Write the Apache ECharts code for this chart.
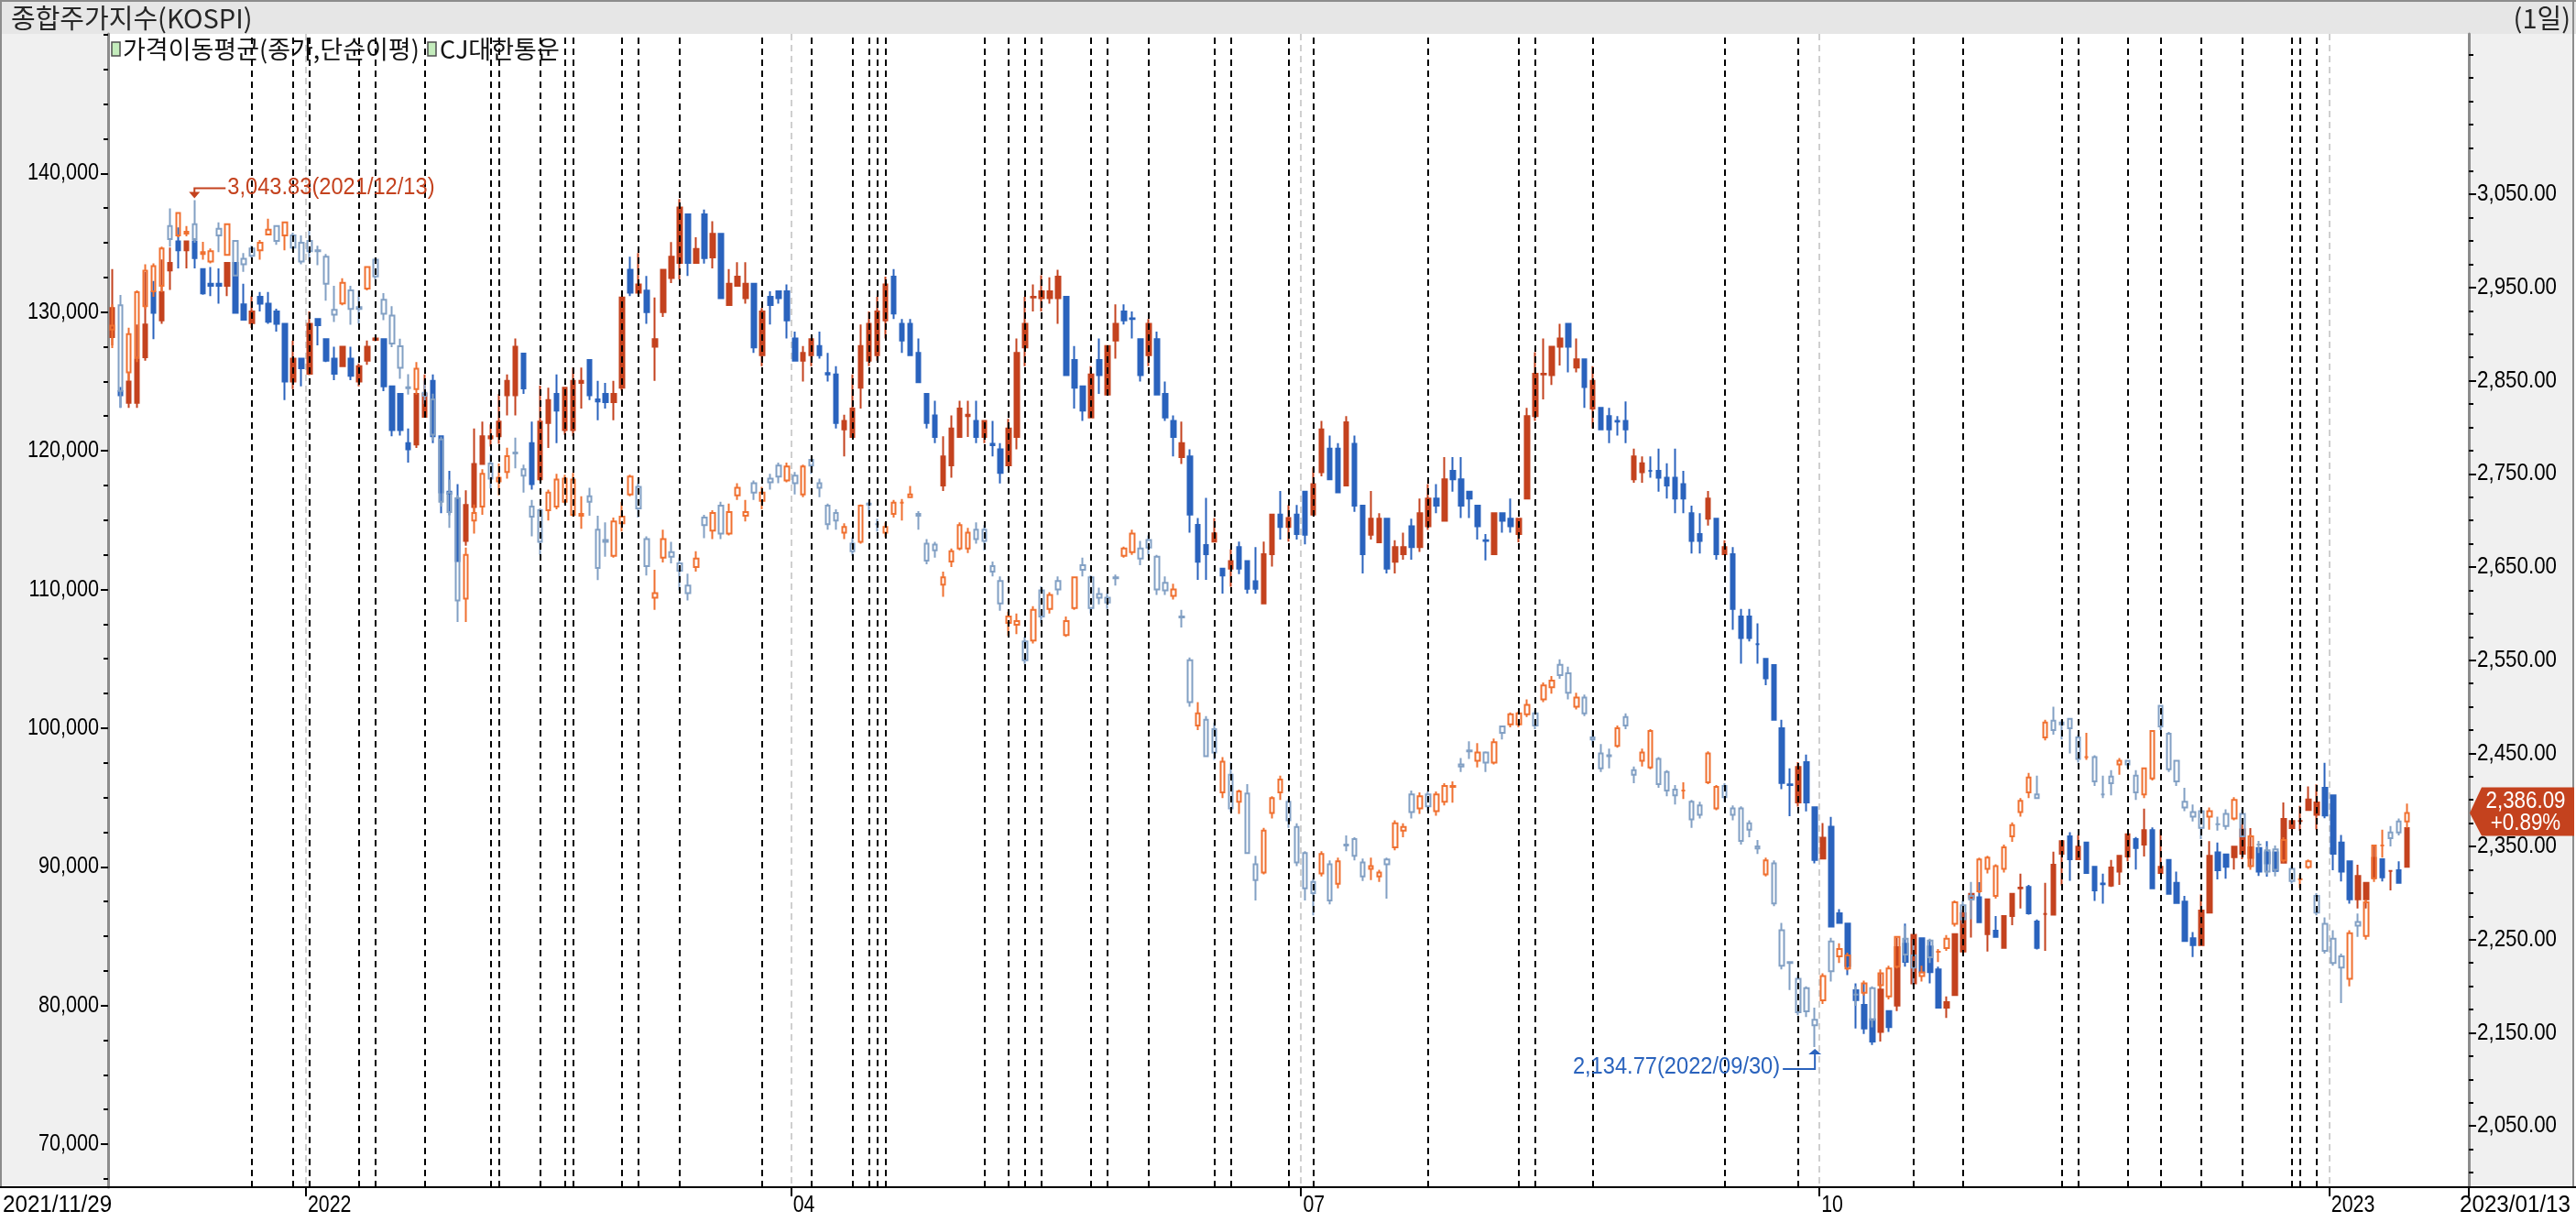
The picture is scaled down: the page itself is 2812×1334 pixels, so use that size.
<!DOCTYPE html>
<html><head><meta charset="utf-8">
<script src="https://cdn.jsdelivr.net/npm/echarts@6/dist/echarts.min.js"></script>
<style>
html,body{margin:0;padding:0;background:#fff;}
#wrap{position:relative;width:2812px;height:1334px;background:#fff;overflow:hidden;}
.bx{position:absolute;}
</style>
</head><body>
<div id="wrap">
  <div class="bx" style="left:0;top:0;width:2812px;height:37px;background:#e6e6e6;"></div>
  <div class="bx" style="left:0;top:0;width:2812px;height:2px;background:#8c8c8c;"></div>
  <div class="bx" style="left:0;top:37px;width:118px;height:1259px;background:#f0f0f0;"></div>
  <div class="bx" style="left:2695px;top:37px;width:113px;height:1259px;background:#f0f0f0;"></div>
  <div class="bx" style="left:0;top:0;width:2px;height:1296px;background:#8c8c8c;"></div>
  <div class="bx" style="left:2808px;top:0;width:2px;height:1296px;background:#8c8c8c;"></div>
  <div id="c" class="bx" style="left:0;top:0;width:2812px;height:1334px;"></div>
</div>
<script>
// ---------------- data ----------------
const tradingDays = [
  ['2021/11', [29,30]],
  ['2021/12', [1,2,3,6,7,8,9,10,13,14,15,16,17,20,21,22,23,24,27,28,29,30]],
  ['2022/01', [3,4,5,6,7,10,11,12,13,14,17,18,19,20,21,24,25,26,27,28]],
  ['2022/02', [3,4,7,8,9,10,11,14,15,16,17,18,21,22,23,24,25,28]],
  ['2022/03', [2,3,4,7,8,10,11,14,15,16,17,18,21,22,23,24,25,28,29,30,31]],
  ['2022/04', [1,4,5,6,7,8,11,12,13,14,15,18,19,20,21,22,25,26,27,28,29]],
  ['2022/05', [2,3,4,6,9,10,11,12,13,16,17,18,19,20,23,24,25,26,27,30,31]],
  ['2022/06', [2,3,7,8,9,10,13,14,15,16,17,20,21,22,23,24,27,28,29,30]],
  ['2022/07', [1,4,5,6,7,8,11,12,13,14,15,18,19,20,21,22,25,26,27,28,29]],
  ['2022/08', [1,2,3,4,5,8,9,10,11,12,16,17,18,19,22,23,24,25,26,29,30,31]],
  ['2022/09', [1,2,5,6,7,8,13,14,15,16,19,20,21,22,23,26,27,28,29,30]],
  ['2022/10', [4,5,6,7,11,12,13,14,17,18,19,20,21,24,25,26,27,28,31]],
  ['2022/11', [1,2,3,4,7,8,9,10,11,14,15,16,17,18,21,22,23,24,25,28,29,30]],
  ['2022/12', [1,2,5,6,7,8,9,12,13,14,15,16,19,20,21,22,23,26,27,28,29]],
  ['2023/01', [2,3,4,5,6,9,10,11,12,13]]
];
const emptySlots = 7;

// KOSPI (hollow candles, right axis): [open, close, low, high]
const kospi = [
[2905,2909,2885,2932],[2931,2839,2821,2942],[2859,2900,2850,2907],[2875,2945,2870,2947],[2930,2968,2927,2975],[2946,2973,2940,2976],[2952,2992,2945,2994],[3016,3002,2994,3035],[3006,3030,3004,3030],[3008,3010,3005,3016],
[3018,3002,2998,3043.83],[2986,2988,2980,2999],[2978,2989,2976,2992],[3013,3006,2988,3020],[2985,3018,2985,3019],[3000,2963,2962,3000],[2981,2975,2967,2987],[2992,2984,2982,2995],[2990,2998,2980,3001],[3007,3012,3007,3024],
[3016,3000,2996,3016],[3006,3020,2990,3021],[3006,2993,2991,3009],[2998,2978,2975,3006],[3000,2989,2978,3011],[2990,2989,2974,2995],[2983,2954,2936,2986],[2926,2921,2913,2952],[2933,2955,2931,2960],[2947,2927,2910,2952],
[2929,2927,2911,2947],[2949,2972,2947,2972],[2980,2962,2959,2982],[2937,2922,2915,2944],[2920,2890,2886,2930],[2887,2864,2852,2895],[2843,2842,2835,2857],[2841,2863,2835,2870],[2837,2834,2825,2850],[2830,2792,2786,2836],
[2787,2720,2715,2790],[2730,2709,2692,2744],[2724,2614,2591,2727],[2616,2663,2591,2671],[2700,2708,2686,2717],[2715,2750,2706,2755],[2761,2745,2734,2771],[2742,2746,2727,2761],[2752,2769,2745,2778],[2773,2772,2756,2789],
[2755,2748,2730,2760],[2715,2704,2683,2722],[2711,2677,2663,2713],[2711,2730,2700,2733],[2715,2744,2712,2750],[2720,2745,2718,2749],[2706,2744,2704,2751],[2705,2707,2691,2726],[2726,2720,2705,2735],[2690,2649,2636,2705],
[2679,2677,2661,2698],[2662,2699,2660,2703],[2697,2704,2688,2720],[2728,2747,2726,2749],[2736,2713,2703,2740],[2680,2651,2641,2683],[2617,2622,2604,2647],[2660,2680,2655,2690],[2666,2661,2654,2677],[2654,2646,2625,2660],
[2630,2622,2614,2643],[2650,2659,2645,2667],[2703,2695,2681,2706],[2689,2708,2680,2711],[2716,2686,2680,2720],[2686,2709,2684,2718],[2727,2735,2722,2740],[2705,2709,2699,2722],[2740,2730,2722,2743],[2721,2730,2712,2736],
[2745,2741,2733,2750],[2759,2747,2740,2762],[2743,2758,2741,2762],[2748,2740,2728,2752],[2728,2758,2725,2760],[2765,2759,2750,2766],[2740,2735,2725,2745],[2716,2696,2690,2718],[2708,2700,2690,2712],[2687,2693,2680,2697],
[2675,2667,2662,2682],[2677,2716,2675,2717],[2718,2717,2704,2720],[2696,2696,2688,2702],[2687,2693,2682,2698],[2707,2719,2703,2722],[2719,2719,2700,2723],[2725,2728,2725,2737],[2707,2705,2690,2710],[2675,2657,2653,2680],
[2674,2668,2660,2677],[2631,2639,2618,2645],[2656,2667,2650,2670],[2670,2695,2668,2698],[2670,2687,2665,2692],[2690,2680,2675,2698],[2690,2678,2668,2695],[2651,2645,2640,2656],[2635,2611,2603,2640],[2590,2597,2576,2602],
[2588,2592,2578,2600],[2570,2550,2546,2575],[2571,2604,2568,2608],[2625,2597,2590,2629],[2605,2620,2600,2623],[2635,2626,2620,2640],[2577,2592,2575,2597],[2606,2639,2604,2640],[2652,2647,2640,2660],[2639,2606,2600,2641],
[2621,2617,2610,2628],[2617,2612,2605,2622],[2639,2638,2630,2642],[2662,2670,2660,2672],[2666,2686,2663,2690],[2670,2659,2652,2678],[2679,2671,2663,2684],[2661,2626,2620,2663],[2633,2625,2620,2640],[2619,2626,2615,2632],
[2597,2596,2585,2604],[2550,2505,2500,2553],[2480,2493,2475,2505],[2486,2447,2446,2490],[2476,2451,2443,2483],[2408,2441,2402,2446],[2427,2391,2387,2440],[2398,2409,2385,2411],[2407,2343,2342,2417],[2331,2314,2292,2340],
[2322,2367,2320,2370],[2386,2402,2380,2404],[2408,2422,2400,2426],[2398,2378,2370,2401],[2371,2333,2329,2375],[2343,2305,2292,2345],[2312,2300,2276,2316],[2321,2342,2318,2345],[2331,2292,2288,2335],[2310,2334,2305,2338],
[2352,2351,2345,2362],[2358,2340,2335,2360],[2333,2318,2313,2337],[2326,2329,2314,2338],[2318,2322,2312,2325],[2336,2331,2294,2338],[2349,2375,2346,2378],[2367,2371,2360,2375],[2406,2387,2380,2410],[2391,2404,2385,2408],
[2406,2393,2388,2409],[2388,2406,2383,2409],[2398,2415,2394,2418],[2414,2415,2397,2420],[2438,2436,2430,2445],[2453,2452,2444,2463],[2442,2451,2435,2461],[2451,2440,2430,2452],[2440,2462,2438,2466],[2479,2472,2465,2480],
[2481,2492,2478,2494],[2481,2493,2478,2495],[2492,2502,2489,2508],[2493,2480,2476,2496],[2508,2523,2505,2526],[2521,2528,2514,2533],[2545,2534,2530,2551],[2536,2515,2508,2543],[2500,2510,2497,2515],[2510,2493,2490,2513],
[2467,2465,2458,2475],[2450,2434,2430,2460],[2448,2447,2434,2455],[2458,2477,2456,2480],[2489,2480,2476,2493],[2432,2427,2418,2436],[2442,2451,2436,2455],[2435,2474,2433,2476],[2444,2417,2413,2446],[2430,2410,2404,2432],
[2411,2405,2395,2416],[2410,2410,2401,2419],[2398,2379,2370,2400],[2394,2384,2380,2398],[2419,2450,2417,2452],[2391,2414,2389,2416],[2415,2403,2398,2418],[2391,2384,2378,2394],[2391,2356,2352,2393],[2375,2368,2360,2378],
[2350,2348,2342,2357],[2320,2335,2318,2338],[2332,2289,2286,2335],[2260,2222,2218,2268],[2226,2225,2196,2227],[2208,2172,2169,2212],[2198,2173,2167,2200],[2164,2158,2134.77,2177],[2185,2211,2181,2214],[2248,2216,2205,2252],
[2232,2240,2225,2246],[2219,2233,2217,2236],[2191,2191,2179,2200],[2193,2203,2190,2206],[2198,2164,2156,2200],[2201,2214,2198,2218],[2189,2219,2186,2222],[2221,2253,2219,2254],[2251,2234,2226,2265],[2233,2220,2201,2250],
[2211,2215,2205,2222],[2249,2231,2225,2251],[2237,2237,2226,2240],[2241,2251,2238,2255],[2267,2290,2264,2292],[2287,2272,2267,2292],[2297,2293,2272,2312],[2302,2336,2300,2338],[2326,2338,2321,2340],[2297,2329,2294,2331],
[2326,2349,2322,2352],[2361,2373,2355,2376],[2387,2399,2382,2402],[2408,2424,2402,2429],[2406,2402,2401,2426],[2467,2483,2464,2486],[2485,2475,2470,2500],[2483,2481,2465,2486],[2487,2477,2450,2488],[2467,2444,2440,2470],
[2446,2446,2443,2472],[2446,2420,2415,2448],[2406,2406,2402,2426],[2425,2418,2405,2432],[2438,2442,2427,2445],[2442,2438,2434,2443],[2426,2408,2400,2432],[2406,2434,2402,2435],[2423,2474,2421,2475],[2501,2479,2475,2501],
[2471,2433,2430,2473],[2442,2420,2415,2443],[2398,2392,2388,2413],[2387,2382,2377,2395],[2388,2370,2358,2392],[2382,2388,2368,2392],[2374,2374,2367,2382],[2385,2372,2368,2390],[2380,2400,2378,2403],[2385,2361,2360,2390],
[2329,2361,2325,2363],[2352,2352,2343,2356],[2346,2323,2320,2350],[2347,2325,2318,2351],[2335,2357,2333,2360],[2326,2313,2310,2330],[2315,2315,2305,2320],[2328,2334,2326,2336],[2297,2279,2276,2300],[2267,2238,2235,2274],
[2251,2225,2222,2260],[2232,2220,2182,2235],[2208,2257,2200,2260],[2269,2265,2253,2278],[2254,2290,2250,2293],[2316,2351,2312,2352],[2351,2351,2338,2368],[2365,2359,2350,2372],[2377,2365.10,2362,2380],[2377,2386.09,2370,2396]
];

// CJ대한통운 (solid candles, left axis): [open, close, low, high]
const cj = [
[128200,130300,127600,133100],[124300,124000,123100,124600],[123450,125000,123100,125600],[123450,126600,123100,129100],[126750,129100,126500,132900],[131450,129950,128050,132250],[129400,131450,129150,133800],[133000,133550,131600,134650],[135100,134450,133150,136100],[134450,135100,133150,135100],
[135100,133900,133150,135300],[133100,131350,131250,133100],[132050,131900,131150,133250],[132050,131900,130600,133150],[131900,133550,131150,133550],[133550,129950,129950,133550],[130550,129450,129400,132050],[129200,130050,128850,131150],[131100,130600,130050,131450],[130600,129300,129150,131450],
[130050,129150,128600,130250],[129150,125000,123650,129150],[125000,126650,124450,127950],[126650,125950,124650,126650],[125550,129150,125450,130050],[129500,129050,127600,129500],[128050,126500,126400,128050],[126650,125550,125100,127500],[126100,127500,126100,127500],[126650,125400,125100,127500],
[125000,126100,124650,126300],[126500,127500,126200,127950],[128000,128100,127900,128200],[128050,124650,124300,128050],[124650,121500,121050,124650],[124100,121500,121100,124100],[120550,120100,119150,121600],[120450,124100,120200,124100],[122450,124100,122450,125500],[125050,121050,120550,125500],
[121050,117000,115500,121050],[117050,116900,115350,118550],[116550,112050,112050,117600],[113500,116100,113150,117150],[115950,119050,115500,121600],[119050,121050,119050,122100],[120900,121050,120300,121900],[121050,122100,120500,124100],[124000,125050,122550,125500],[124000,127500,122550,128100],
[127000,124500,124100,127000],[120550,117600,117200,122100],[117950,122100,117850,124700],[122000,123650,120200,124550],[124100,122900,120550,125500],[121500,124550,121150,124550],[121500,125050,121050,126000],[124900,125050,123050,126000],[126550,124000,123650,126550],[123700,123550,122200,125050],
[124100,123500,123050,124900],[123500,124100,122200,125050],[124550,131050,124350,131050],[133050,131400,131150,134000],[131400,132000,131400,134250],[131550,130000,129150,132600],[127500,128050,125050,131050],[130000,133050,129650,133050],[132450,134000,132100,135050],[133550,137550,132350,138150],
[137050,133550,132600,137050],[133550,134550,133550,135400],[137050,133900,133500,137400],[133950,135650,133150,136550],[135650,131000,131000,135650],[130500,132050,130500,133100],[131900,132550,131900,133600],[131000,132050,130600,133600],[132050,127450,127050,132050],[126900,130050,126100,130300],
[131100,130500,129100,131500],[131500,131000,130600,131500],[131500,129400,128100,132000],[128100,126500,126500,128600],[126500,127050,125000,127550],[126900,128050,126100,128050],[127550,126900,126650,128600],[125600,125500,125000,127050],[125500,122000,121600,126100],[121550,122150,119600,122600],
[121000,123050,121000,125500],[124550,127550,123050,129100],[126500,129150,126100,130050],[126900,130050,126500,131100],[129400,132000,128100,132550],[132550,129900,129500,133100],[129150,127950,127050,129500],[129150,126900,126900,129500],[127050,124950,124950,128100],[124100,122000,121600,124100],
[122550,121000,120550,123600],[117500,119600,117100,121050],[118950,121600,118050,122550],[121000,123050,121000,123600],[122500,122600,121000,123600],[122150,121000,120550,123600],[121000,122150,120550,122150],[120500,120400,119600,122150],[120100,118400,117650,120550],[118950,121600,118950,122300],
[121000,127050,120100,128100],[127450,129150,126100,131100],[131050,131100,130050,132000],[131000,131500,130050,132650],[131000,131500,130600,132500],[131000,132550,129150,133050],[131100,125450,125450,131100],[126550,124550,123050,127550],[124650,122900,122150,124650],[122400,125500,122400,126100],
[126550,125450,124100,128100],[124050,127550,124050,127550],[127950,129150,126650,130550],[130050,129400,129100,130550],[129550,129500,128100,130050],[128050,125450,125000,128050],[126900,129150,126100,129500],[128050,124050,124050,128600],[124100,122400,122150,125000],[122150,121000,119600,122550],
[119550,120550,119050,122100],[119600,115400,114100,120100],[114650,112000,110700,115150],[113200,112550,110700,116600],[113450,114050,113450,115150],[111500,111000,109700,111500],[111500,112050,110200,112900],[113050,111500,111100,113450],[112050,110050,109700,112050],[110600,110050,109700,113050],
[109000,112550,109000,113450],[112550,115400,111650,115400],[115400,114500,113600,117100],[114500,115150,113450,116100],[115400,114000,113600,116100],[117050,113950,113250,117050],[115400,117600,115300,118800],[118450,121550,118150,122150],[120150,117950,117950,121100],[120150,117000,117000,120550],
[117500,122050,117500,122500],[120500,116050,115600,121100],[116050,112550,111150,116050],[113950,115100,113600,117100],[113400,115100,113400,115500],[115100,111500,111150,115100],[112000,113050,111150,113550],[112550,113050,112150,114100],[114550,113050,112150,115100],[113050,115500,112700,116550],
[114550,116550,114300,117600],[116550,116050,115500,117600],[114950,117950,114950,119550],[118550,117950,117050,119550],[117950,116050,115150,119550],[117050,116550,115150,117050],[116050,114550,113600,116050],[113550,113500,112100,114000],[112550,115500,112550,115500],[115500,114950,114100,115500],
[115100,114550,114100,116550],[114000,115100,113400,115100],[116550,122500,116550,123100],[122500,125550,122150,127100],[125500,125550,123700,128100],[125450,127500,124750,127500],[127500,128100,126150,129150],[129150,127500,125650,129150],[126000,126600,125650,128100],[126600,124600,123100,126600],
[123050,125050,121600,126100],[123100,121550,121550,123100],[122500,121550,120550,123100],[122150,122100,121100,122500],[122150,121550,120550,123550],[117950,119600,117700,120150],[118450,119100,117700,119600],[118550,118550,118050,119600],[118550,118050,117050,120150],[118050,117500,116550,119100],
[118050,116550,115500,120150],[117600,116550,115500,118550],[115500,113500,112600,116050],[114000,113500,112600,115500],[115100,116550,114600,117100],[115100,112550,112150,115100],[112550,113050,112550,113550],[112550,108600,107100,113050],[108050,106500,104650,108600],[108050,106500,106250,108600],
[106050,106050,104650,107550],[105000,103600,103100,105000],[104550,100600,100600,104550],[100000,96050,95600,100600],[95950,95900,93650,97100],[94650,97200,94350,97550],[97550,94650,94000,98100],[94300,90500,90250,94300],[90600,92100,90600,93150],[92900,85700,85700,93600],
[86650,85950,85900,86950],[85900,82850,82200,85900],[81100,80400,78350,81600],[80050,78350,77950,81600],[79000,77400,77150,79000],[78100,81150,77400,82300],[79600,78450,78100,79600],[80000,84200,79600,84900],[84450,83150,82800,85900],[81600,85100,81600,85100],
[84850,82400,82400,84850],[84250,82400,81600,84700],[82600,79850,79850,82800],[79850,80250,79100,80650],[80750,85150,80750,85150],[83900,86650,83900,86900],[87750,88050,84900,88050],[87800,86000,86000,88900],[85150,87650,83900,87650],[85400,84950,84950,86450],
[84150,86450,84150,86450],[86450,88050,85800,88050],[88450,88500,87000,89500],[88550,86650,86550,88700],[86050,84150,84050,86200],[86600,86600,83950,88850],[86550,90150,86550,91100],[90950,91850,88650,91850],[92200,90550,89000,92500],[90550,91450,90550,92300],
[91750,89550,89550,91750],[90000,88300,87550,90000],[88800,88750,87350,89500],[88650,89950,88550,90500],[89650,90800,88700,90800],[90750,92350,90400,92350],[92000,91350,89800,92150],[91600,92650,90750,94200],[92650,88450,88450,92850],[89550,90000,89550,92700],
[90500,88050,88050,90500],[88850,87400,87400,89650],[87500,84650,84650,87900],[84850,84350,83500,85300],[84350,86850,84350,88000],[86700,90800,86700,91850],[91050,89750,89100,91750],[90900,90000,89150,90900],[90700,91450,89800,91450],[90950,92700,90550,93050],
[90650,91400,89950,92800],[91350,89650,89350,91350],[91050,90250,89300,91850],[91050,89700,89650,91050],[90300,93450,90300,94650],[92800,93300,92800,93300],[93300,93300,92600,94400],[94100,94850,94100,95800],[93750,94650,92700,95950],[95700,93700,93500,97500],
[95150,90950,89750,95150],[91750,89650,88950,92300],[90400,87650,87350,90400],[87650,89350,87000,90150],[87650,88850,87000,88850],[89200,90650,89100,91500],[90550,89250,88950,90550],[89700,89700,88300,89700],[89750,88850,88850,90400],[90000,92800,90000,92800]
];

// dates with a dashed marker line (category indices)
const markerDays = [17,22,24,30,32,38,46,47,52,55,56,62,64,69,79,85,90,92,93,94,106,109,111,113,119,121,126,134,136,143,146,160,171,173,180,196,205,219,225,237,239,245,249,254,259,265,266,268];

// x tick labels (period starts)
const periodTicks = {'2022/01/03':'2022','2022/04/01':'04','2022/07/01':'07','2022/10/04':'10','2023/01/02':'2023'};
// y tick labels
const cjTicks = [70000,80000,90000,100000,110000,120000,130000,140000];
const kospiTicks = [2050,2150,2250,2350,2450,2550,2650,2750,2850,2950,3050];
const cjMinor = []; for (let v = 67500; v <= 150000; v += 2500) cjMinor.push(v);
const kospiMinor = []; for (let v = 2000; v <= 3200; v += 25) kospiMinor.push(v);

const titleText = '종합주가지수(KOSPI)';
const periodText = '(1일)';
const legendItems = ['가격이동평균(종가,단순이평)', 'CJ대한통운'];

// ---------------- build ----------------
const dates = [];
tradingDays.forEach(([ym, days]) => days.forEach(d => dates.push(ym + '/' + String(d).padStart(2, '0'))));
const cats = dates.slice();
for (let i = 0; i < emptySlots; i++) cats.push('_pad' + i);
const periodIdx = new Set(cats.map((c, i) => periodTicks[c] ? i : -1).filter(i => i >= 0));

const NUM_FONT = "'Liberation Sans',Arial,sans-serif";
const KR_FONT = "'Noto Sans CJK KR','Noto Sans CJK SC',sans-serif";
const RED = '#c4421e', BLUE = '#2a63bd', ORANGE = '#f07030', LBLUE = '#82a0c4';

const GRID = {left: 118, right: 117, top: 37, bottom: 38};
const fmt0 = v => v.toLocaleString('en-US');
const fmt2 = v => v.toLocaleString('en-US', {minimumFractionDigits: 2, maximumFractionDigits: 2});

const chart = echarts.init(document.getElementById('c'), null, {width: 2812, height: 1334});

function yAx(pos, min, max, labels, minor) {
  return [{
    type: 'value', position: pos, min: min, max: max, scale: true,
    axisLine: {show: true, lineStyle: {color: '#8c8c8c', width: 3}},
    axisTick: {show: true, customValues: labels, length: 8, lineStyle: {color: '#000', width: 2}},
    axisLabel: {show: false},
    splitLine: {show: false}
  }, {
    type: 'value', position: pos, min: min, max: max,
    axisLine: {show: false},
    axisTick: {show: true, customValues: minor, length: 5, lineStyle: {color: '#000', width: 2}},
    axisLabel: {show: false}, splitLine: {show: false}
  }];
}
const L = yAx('left', 66902, 150059, cjTicks, cjMinor);
const R = yAx('right', 1984.3, 3222.3, kospiTicks, kospiMinor);

chart.setOption({
  animation: false,
  backgroundColor: 'transparent',
  grid: GRID,
  xAxis: {
    type: 'category', data: cats, boundaryGap: true,
    axisLine: {show: true, lineStyle: {color: '#000', width: 2}},
    axisTick: {show: true, interval: (i) => periodIdx.has(i), length: 10, lineStyle: {color: '#000', width: 2}},
    axisLabel: {show: false},
    splitLine: {show: true, interval: (i) => periodIdx.has(i), lineStyle: {color: '#cfcfcf', width: 2, type: [7, 5]}}
  },
  yAxis: [L[0], R[0], L[1], R[1]],
  series: [
    {
      type: 'line', data: [], xAxisIndex: 0, yAxisIndex: 0, z: 1, silent: true,
      markLine: {
        silent: true, symbol: ['none', 'none'], animation: false,
        label: {show: false},
        lineStyle: {color: '#000', width: 2, type: [7, 5]},
        emphasis: {disabled: true},
        data: markerDays.map(i => ({xAxis: i}))
      }
    },
    {
      type: 'candlestick', name: legendItems[1], yAxisIndex: 0, data: cj, barWidth: 5, z: 3,
      itemStyle: {color: RED, color0: BLUE, borderColor: RED, borderColor0: BLUE, borderWidth: 2},
      emphasis: {disabled: true}, silent: true
    },
    {
      type: 'candlestick', name: 'KOSPI', yAxisIndex: 1, data: kospi, barWidth: 5, z: 4,
      itemStyle: {color: 'rgba(0,0,0,0)', color0: 'rgba(0,0,0,0)', borderColor: ORANGE, borderColor0: LBLUE, borderWidth: 2},
      emphasis: {disabled: true}, silent: true
    }
  ]
});

// ---------------- text & annotations ----------------
const g = [];
function txt(s, x, y, align, scale, fill, font, z) {
  g.push({type: 'text', x: x, y: y, scaleX: scale, z: z || 10,
    style: {text: s, font: font || ('26px ' + NUM_FONT), fill: fill || '#000', textAlign: align, textVerticalAlign: 'middle'}});
}
const xR = 2812 - GRID.right;
const bottomY = 1334 - GRID.bottom;

// axis labels from the library's scales
cjTicks.forEach(v => txt(fmt0(v), 108, chart.convertToPixel({yAxisIndex: 0}, v), 'right', 0.83));
kospiTicks.forEach(v => txt(fmt2(v), xR + 9, chart.convertToPixel({yAxisIndex: 1}, v), 'left', 0.86));
periodIdx.forEach(i => txt(periodTicks[cats[i]], chart.convertToPixel({xAxisIndex: 0}, i) - 2, bottomY + 20, 'left', 0.82));
txt(dates[0], 3, bottomY + 20, 'left', 0.93);
txt(dates[dates.length - 1], 2806, bottomY + 20, 'right', 0.93);

// title / legend
txt(titleText, 12, 20, 'left', 1, '#262626', '29px ' + KR_FONT);
txt(periodText, 2806, 20, 'right', 1, '#262626', '29px ' + KR_FONT);
g.push({type: 'rect', z: 10, shape: {x: 122, y: 46, width: 9, height: 15}, style: {fill: '#c4ecbc', stroke: '#4d4d4d', lineWidth: 1.5}});
txt(legendItems[0], 134, 54, 'left', 1, '#111', '27px ' + KR_FONT);
g.push({type: 'rect', z: 10, shape: {x: 467, y: 46, width: 9, height: 15}, style: {fill: '#c4ecbc', stroke: '#4d4d4d', lineWidth: 1.5}});
txt(legendItems[1], 480, 54, 'left', 1, '#111', '27px ' + KR_FONT);

// x-axis line continues under the side panels
g.push({type: 'line', z: 10, shape: {x1: 0, y1: bottomY, x2: GRID.left, y2: bottomY}, style: {stroke: '#000', lineWidth: 2}});
g.push({type: 'line', z: 10, shape: {x1: xR, y1: bottomY, x2: 2812, y2: bottomY}, style: {stroke: '#000', lineWidth: 2}});

// high / low annotations
let maxI = 0, minI = 0;
kospi.forEach((d, i) => { if (d[3] > kospi[maxI][3]) maxI = i; if (d[2] < kospi[minI][2]) minI = i; });
const pMax = chart.convertToPixel({xAxisIndex: 0, yAxisIndex: 1}, [maxI, kospi[maxI][3]]);
const pMin = chart.convertToPixel({xAxisIndex: 0, yAxisIndex: 1}, [minI, kospi[minI][2]]);
{
  const x = pMax[0], y = pMax[1];
  g.push({type: 'polyline', z: 10, shape: {points: [[x + 34, y - 13], [x, y - 13], [x, y - 8]]}, style: {stroke: RED, lineWidth: 2, fill: null}});
  g.push({type: 'polygon', z: 10, shape: {points: [[x - 6, y - 9], [x + 6, y - 9], [x, y - 2]]}, style: {fill: RED}});
  txt(fmt2(kospi[maxI][3]) + '(' + dates[maxI] + ')', x + 36, y - 14, 'left', 0.91, RED);
}
{
  const x = pMin[0], y = pMin[1];
  g.push({type: 'polyline', z: 10, shape: {points: [[x - 35, y + 24], [x, y + 24], [x, y + 8]]}, style: {stroke: BLUE, lineWidth: 2, fill: null}});
  g.push({type: 'polygon', z: 10, shape: {points: [[x - 7, y + 8], [x + 7, y + 8], [x, y + 2]]}, style: {fill: BLUE}});
  txt(fmt2(kospi[minI][2]) + '(' + dates[minI] + ')', x - 38, y + 22, 'right', 0.91, BLUE);
}

// last price tag
const last = kospi[kospi.length - 1][1], prev = kospi[kospi.length - 2][1];
const pct = (last - prev) / prev * 100;
const yLast = chart.convertToPixel({xAxisIndex: 0, yAxisIndex: 1}, [kospi.length - 1, last])[1];
g.push({type: 'polygon', z: 10, shape: {points: [[xR + 1, yLast], [xR + 14, yLast - 28], [2810, yLast - 28], [2810, yLast + 25], [xR + 14, yLast + 25]]}, style: {fill: RED}});
txt(fmt2(last), 2757, yLast - 13, 'center', 0.86, '#fff', null, 11);
txt((pct >= 0 ? '+' : '') + pct.toFixed(2) + '%', 2757, yLast + 11, 'center', 0.86, '#fff', null, 11);

chart.setOption({graphic: {elements: g}});
</script>
</body></html>
